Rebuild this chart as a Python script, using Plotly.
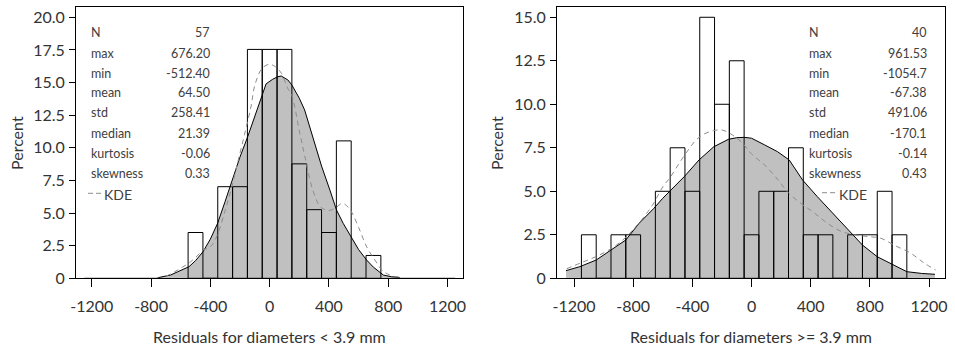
import plotly.graph_objects as go

W, H = 955, 348

# ---------------- data ----------------
# Left panel: residuals for diameters < 3.9 mm (bin centres, percent)
left_bin_centers = [-500, -400, -300, -200, -100, 0, 100, 200, 300, 400, 500, 600, 700]
left_bin_percent = [3.51, 0.0, 7.02, 7.02, 17.54, 17.54, 17.54, 8.77, 5.26, 3.51, 10.53, 0.0, 1.75]

left_normal_x = [-1250, -760, -740, -700, -668, -620, -544, -500, -449, -400, -351, -300, -245, -200,
                 -148, -100, -53, -24, 20, 56, 78, 123, 150, 200, 236, 270, 304, 350, 406, 451, 496,
                 559, 600, 654, 700, 767, 820, 870, 880, 1250]
left_normal_y = [0, 0, 0.08, 0.15, 0.25, 0.5, 0.89, 1.35, 2.04, 3.0, 4.21, 5.9, 7.79, 9.3,
                 10.85, 12.4, 13.9, 14.9, 15.25, 15.45, 15.5, 15.2, 14.81, 13.8, 12.9, 11.6, 10.2, 8.6,
                 6.77, 5.23, 4.21, 2.93, 2.2, 1.40, 0.85, 0.25, 0.12, 0.08, 0, 0]

left_kde_x = [-700, -640, -590, -540, -490, -445, -415, -385, -350, -300, -260, -215, -170, -125,
              -100, -50, 0, 40, 80, 120, 150, 200, 240, 290, 345, 400, 445, 490, 540, 600, 655,
              710, 760, 810, 830]
left_kde_y = [0.15, 0.5, 0.85, 1.2, 1.7, 2.2, 2.3, 2.6, 3.4, 5.2, 6.8, 8.9, 11.0, 13.2,
              14.8, 16.1, 16.4, 16.2, 15.7, 14.6, 14.0, 11.3, 9.2, 6.8, 5.45, 5.2, 5.4, 5.75,
              5.3, 3.9, 2.4, 1.4, 0.6, 0.25, 0.15]

left_stat_labels = ["N", "max", "min", "mean", "std", "median", "kurtosis", "skewness"]
left_stat_values = ["57", "676.20", "-512.40", "64.50", "258.41", "21.39", "-0.06", "0.33"]

# Right panel: residuals for diameters >= 3.9 mm
right_bin_centers = [-1100, -1000, -900, -800, -700, -600, -500, -400, -300, -200, -100, 0,
                     100, 200, 300, 400, 500, 600, 700, 800, 900, 1000]
right_bin_percent = [2.5, 0.0, 2.5, 2.5, 0.0, 5.0, 7.5, 5.0, 15.0, 10.0, 12.5, 2.5,
                     5.0, 5.0, 7.5, 2.5, 2.5, 0.0, 2.5, 2.5, 5.0, 2.5]

right_normal_x = [-1254, -1160, -1050, -950, -850, -760, -660, -600, -545, -455, -355, -255,
                  -155, -100, -50, 0, 90, 175, 255, 345, 445, 550, 650, 750, 850, 940, 1050,
                  1150, 1240]
right_normal_y = [0.44, 0.67, 1.05, 1.63, 2.2, 3.16, 4.02, 4.6, 5.07, 5.84, 6.8, 7.56,
                  7.99, 8.08, 8.1, 8.05, 7.66, 7.28, 6.8, 5.65, 4.69, 3.74, 2.78, 1.91, 1.24,
                  0.86, 0.38, 0.28, 0.23]

right_kde_x = [-1250, -1150, -1050, -950, -870, -800, -730, -670, -600, -550, -490, -430,
               -380, -330, -260, -200, -130, -60, 0, 90, 180, 250, 335, 425, 515, 605, 695,
               785, 875, 965, 1075, 1170, 1245]
right_kde_y = [0.55, 0.9, 1.25, 1.7, 2.2, 2.8, 3.5, 4.2, 5.25, 5.8, 6.6, 7.35,
               7.9, 8.25, 8.48, 8.52, 8.24, 7.76, 7.15, 6.5, 5.65, 4.9, 4.3, 3.75, 3.15, 2.7,
               2.5, 2.4, 2.3, 1.9, 1.45, 0.86, 0.48]

right_stat_labels = ["N", "max", "min", "mean", "std", "median", "kurtosis", "skewness"]
right_stat_values = ["40", "961.53", "-1054.7", "-67.38", "491.06", "-170.1", "-0.14", "0.43"]

x_tick_vals = [-1200, -800, -400, 0, 400, 800, 1200]
x_tick_text = ["-1200", "-800", "-400", "0", "400", "800", "1200"]
left_y_tick_vals = [0, 2.5, 5, 7.5, 10, 12.5, 15, 17.5, 20]
left_y_tick_text = ["0", "2.5", "5.0", "7.5", "10.0", "12.5", "15.0", "17.5", "20.0"]
right_y_tick_vals = [0, 2.5, 5, 7.5, 10, 12.5, 15]
right_y_tick_text = ["0", "2.5", "5.0", "7.5", "10.0", "12.5", "15.0"]

left_title = "Residuals for diameters < 3.9 mm"
right_title = "Residuals for diameters >= 3.9 mm"
y_title = "Percent"

# ---------------- styling ----------------
FONT = "Lato"
TXT = "#333333"
GRAY_FILL = "#c0c0c0"
KDE_COLOR = "#8c8c8c"

def px(x):
    return x / W

def py(y):
    return 1 - y / H

left_dom = [px(76), px(463.3)]
right_dom = [px(557), px(945)]
y_dom = [py(278.3), py(7)]
left_xrange = [-1306, 1306]
right_xrange = [-1315, 1308]
left_yrange = [0, 20.79]
right_yrange = [0, 15.59]

fig = go.Figure()

# base subplot: gray normal-curve areas
fig.add_trace(go.Scatter(x=left_normal_x, y=left_normal_y, mode="lines", fill="tozeroy",
                         fillcolor=GRAY_FILL, line=dict(color="black", width=1),
                         xaxis="x", yaxis="y", showlegend=False, hoverinfo="skip"))
fig.add_trace(go.Scatter(x=right_normal_x, y=right_normal_y, mode="lines", fill="tozeroy",
                         fillcolor=GRAY_FILL, line=dict(color="black", width=1),
                         xaxis="x2", yaxis="y2", showlegend=False, hoverinfo="skip"))

# overlay subplots: histogram outlines + KDE
fig.add_trace(go.Bar(x=left_bin_centers, y=left_bin_percent, width=100,
                     marker=dict(color="rgba(0,0,0,0)", line=dict(color="black", width=1)),
                     xaxis="x3", yaxis="y3", showlegend=False))
fig.add_trace(go.Scatter(x=left_kde_x, y=left_kde_y, mode="lines", line_shape="spline",
                         line=dict(color=KDE_COLOR, width=1, dash="5px,4px"),
                         xaxis="x3", yaxis="y3", showlegend=False))
fig.add_trace(go.Bar(x=right_bin_centers, y=right_bin_percent, width=100,
                     marker=dict(color="rgba(0,0,0,0)", line=dict(color="black", width=1)),
                     xaxis="x4", yaxis="y4", showlegend=False))
fig.add_trace(go.Scatter(x=right_kde_x, y=right_kde_y, mode="lines", line_shape="spline",
                         line=dict(color=KDE_COLOR, width=1, dash="5px,4px"),
                         xaxis="x4", yaxis="y4", showlegend=False))

def xaxis_cfg(dom, rng, anchor):
    return dict(domain=dom, range=rng, anchor=anchor, tickvals=x_tick_vals, ticktext=x_tick_text,
                ticks="outside", ticklen=8, tickcolor="black", tickwidth=1,
                showline=True, linecolor="black", linewidth=1, mirror=True,
                showgrid=False, zeroline=False, fixedrange=True, automargin=False,
                ticklabelstandoff=5,
                tickfont=dict(family=FONT, size=16, color=TXT))

def yaxis_cfg(rng, anchor, tv, tt):
    return dict(domain=y_dom, range=rng, anchor=anchor, tickvals=tv, ticktext=tt,
                ticks="outside", ticklen=6, tickcolor="black", tickwidth=1,
                showline=True, linecolor="black", linewidth=1, mirror=True,
                showgrid=False, zeroline=False, fixedrange=True, automargin=False,
                ticklabelstandoff=1,
                tickfont=dict(family=FONT, size=16, color=TXT))

def overlay_x(base, rng, anchor):
    return dict(overlaying=base, range=rng, anchor=anchor, visible=False, fixedrange=True,
                automargin=False)

def overlay_y(base, rng, anchor):
    return dict(overlaying=base, range=rng, anchor=anchor, visible=False, fixedrange=True,
                automargin=False)

annotations = []
row_y = [32, 53, 73, 93, 113, 133, 153, 173]
STAT_FONT = dict(family=FONT, size=12.5, color="#404040")
for lab, val, yy in zip(left_stat_labels, left_stat_values, row_y):
    annotations.append(dict(text=lab, x=px(89), y=py(yy), xref="paper", yref="paper",
                            xanchor="left", yanchor="middle", showarrow=False, font=STAT_FONT))
    annotations.append(dict(text=val, x=px(211.5), y=py(yy), xref="paper", yref="paper",
                            xanchor="right", yanchor="middle", showarrow=False, font=STAT_FONT))
for lab, val, yy in zip(right_stat_labels, right_stat_values, row_y):
    annotations.append(dict(text=lab, x=px(806.5), y=py(yy), xref="paper", yref="paper",
                            xanchor="left", yanchor="middle", showarrow=False, font=STAT_FONT))
    annotations.append(dict(text=val, x=px(928.5), y=py(yy), xref="paper", yref="paper",
                            xanchor="right", yanchor="middle", showarrow=False, font=STAT_FONT))

# KDE legend text
annotations.append(dict(text="KDE", x=px(101.5), y=py(195), xref="paper", yref="paper",
                        xanchor="left", yanchor="middle", showarrow=False,
                        font=dict(family=FONT, size=14, color="#404040")))
annotations.append(dict(text="KDE", x=px(837), y=py(194), xref="paper", yref="paper",
                        xanchor="left", yanchor="middle", showarrow=False,
                        font=dict(family=FONT, size=14, color="#404040")))

# axis titles
annotations.append(dict(text=left_title, x=px(269.6), y=py(336), xref="paper", yref="paper",
                        xanchor="center", yanchor="middle", showarrow=False,
                        font=dict(family=FONT, size=16, color=TXT)))
annotations.append(dict(text=right_title, x=px(751), y=py(336), xref="paper", yref="paper",
                        xanchor="center", yanchor="middle", showarrow=False,
                        font=dict(family=FONT, size=16, color=TXT)))
annotations.append(dict(text=y_title, x=px(16), y=py(143), xref="paper", yref="paper",
                        xanchor="center", yanchor="middle", showarrow=False, textangle=-90,
                        font=dict(family=FONT, size=16, color=TXT)))
annotations.append(dict(text=y_title, x=px(496), y=py(143), xref="paper", yref="paper",
                        xanchor="center", yanchor="middle", showarrow=False, textangle=-90,
                        font=dict(family=FONT, size=16, color=TXT)))

shapes = [
    dict(type="line", xref="paper", yref="paper", x0=px(88), x1=px(101), y0=py(193.3), y1=py(193.3),
         line=dict(color=KDE_COLOR, width=1, dash="5px,3px")),
    dict(type="line", xref="paper", yref="paper", x0=px(822), x1=px(837), y0=py(192.7), y1=py(192.7),
         line=dict(color=KDE_COLOR, width=1, dash="5px,3px")),
]

fig.update_layout(
    width=W, height=H,
    margin=dict(l=0, r=0, t=0, b=0),
    paper_bgcolor="white", plot_bgcolor="rgba(0,0,0,0)",
    barmode="overlay",
    showlegend=False,
    xaxis=xaxis_cfg(left_dom, left_xrange, "y"),
    yaxis=yaxis_cfg(left_yrange, "x", left_y_tick_vals, left_y_tick_text),
    xaxis2=xaxis_cfg(right_dom, right_xrange, "y2"),
    yaxis2=yaxis_cfg(right_yrange, "x2", right_y_tick_vals, right_y_tick_text),
    xaxis3=overlay_x("x", left_xrange, "y3"),
    yaxis3=overlay_y("y", left_yrange, "x3"),
    xaxis4=overlay_x("x2", right_xrange, "y4"),
    yaxis4=overlay_y("y2", right_yrange, "x4"),
    annotations=annotations,
    shapes=shapes,
    font=dict(family=FONT, color=TXT),
)

fig.write_html("out.html")
